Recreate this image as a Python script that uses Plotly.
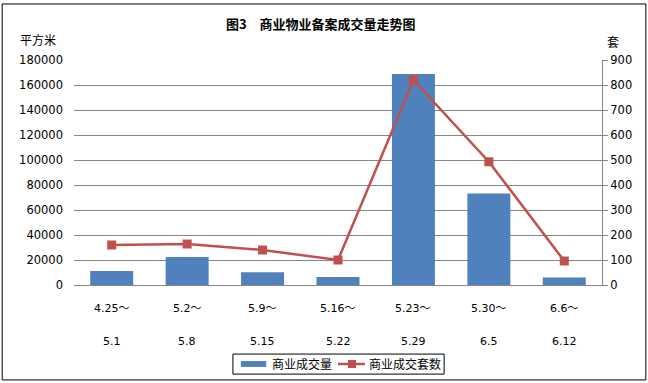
import plotly.graph_objects as go

cats_top = ["4.25～", "5.2～", "5.9～", "5.16～", "5.23～", "5.30～", "6.6～"]
cats_bottom = ["5.1", "5.8", "5.15", "5.22", "5.29", "6.5", "6.12"]
area = [11200, 22400, 10300, 6400, 168800, 73200, 6000]
units = [160, 164, 140, 100, 820, 493, 96]
series_names = ["商业成交量", "商业成交套数"]

BAR_C = "#4F81BD"
LINE_C = "#C0504D"
x = list(range(len(cats_top)))
FONT = "DejaVu Sans, Noto Sans CJK SC, sans-serif"
CJK = "Noto Sans CJK SC, sans-serif"

fig = go.Figure()
fig.add_trace(go.Bar(x=x, y=area, name=series_names[0], marker=dict(color=BAR_C, line=dict(width=0)),
                     width=0.57, yaxis="y", hoverinfo="skip"))
fig.add_trace(go.Scatter(x=x, y=units, name=series_names[1], mode="lines+markers",
                         line=dict(color=LINE_C, width=2.5),
                         marker=dict(symbol="square", size=9, color=LINE_C),
                         yaxis="y2", hoverinfo="skip"))

ann = []
for i in x:
    ann.append(dict(x=i, y=-0.105, xref="x", yref="paper", text=cats_top[i], showarrow=False,
                    font=dict(size=11, color="#000", family=FONT), xanchor="center", yanchor="middle"))
    ann.append(dict(x=i, y=-0.249, xref="x", yref="paper", text=cats_bottom[i], showarrow=False,
                    font=dict(size=11, color="#000", family=FONT), xanchor="center", yanchor="middle"))
ann.append(dict(x=-0.068, y=1.089, xref="paper", yref="paper", text="平方米", showarrow=False,
                font=dict(size=12, color="#000", family=CJK), xanchor="center", yanchor="middle"))
ann.append(dict(x=1.021, y=1.08, xref="paper", yref="paper", text="套", showarrow=False,
                font=dict(size=12, color="#000", family=CJK), xanchor="center", yanchor="middle"))
# legend texts
ann.append(dict(x=0.371, y=-0.351, xref="paper", yref="paper", text=series_names[0], showarrow=False,
                font=dict(size=12, color="#000", family=CJK), xanchor="left", yanchor="middle"))
ann.append(dict(x=0.555, y=-0.351, xref="paper", yref="paper", text=series_names[1], showarrow=False,
                font=dict(size=12, color="#000", family=CJK), xanchor="left", yanchor="middle"))

shapes = [
    dict(type="rect", xref="paper", yref="paper", x0=-0.136, x1=1.083, y0=-0.422, y1=1.249,
         line=dict(color="#000", width=1)),
    # legend box
    dict(type="rect", xref="paper", yref="paper", x0=0.301, x1=0.701, y0=-0.396, y1=-0.307,
         line=dict(color="#000", width=1)),
    dict(type="rect", xref="paper", yref="paper", x0=0.316, x1=0.364, y0=-0.364, y1=-0.338,
         line=dict(width=0), fillcolor=BAR_C),
    dict(type="line", xref="paper", yref="paper", x0=0.5, x1=0.551, y0=-0.351, y1=-0.351,
         line=dict(color=LINE_C, width=2.5)),
    dict(type="rect", xref="paper", yref="paper", x0=0.5265 - 0.0076, x1=0.5265 + 0.0076,
         y0=-0.351 - 0.0178, y1=-0.351 + 0.0178, line=dict(width=0), fillcolor=LINE_C),
]

fig.update_layout(
    width=648, height=383,
    margin=dict(l=74, r=46, t=60, b=98),
    paper_bgcolor="white", plot_bgcolor="white",
    title=dict(text="<b>图3　商业物业备案成交量走势图</b>", x=0.495, xanchor="center",
               y=1 - 24 / 383, yanchor="middle", yref="container",
               font=dict(size=13, color="#000", family=CJK)),
    xaxis=dict(range=[-0.5, 6.5], showticklabels=False, showline=True, linecolor="#868686", linewidth=1,
               ticks="", showgrid=False, zeroline=False),
    yaxis=dict(range=[0, 180000], dtick=20000, showgrid=True, gridcolor="#868686", gridwidth=1,
               tickfont=dict(size=11.5, color="#000", family=FONT), showline=False, zeroline=False,
               ticks="", tickformat="d", automargin=False, ticklabelstandoff=10),
    yaxis2=dict(range=[0, 900], dtick=100, overlaying="y", side="right", showgrid=False,
                showline=True, linecolor="#868686", linewidth=1, ticks="outside", ticklen=5,
                tickcolor="#868686", tickfont=dict(size=11.5, color="#000", family=FONT), zeroline=False,
                automargin=False),
    annotations=ann,
    showlegend=False,
    hovermode=False,
    shapes=shapes,
)
fig.write_html("out.html", config={"displayModeBar": False},
               post_script="document.body.style.margin='0';document.body.style.overflow='hidden';")
